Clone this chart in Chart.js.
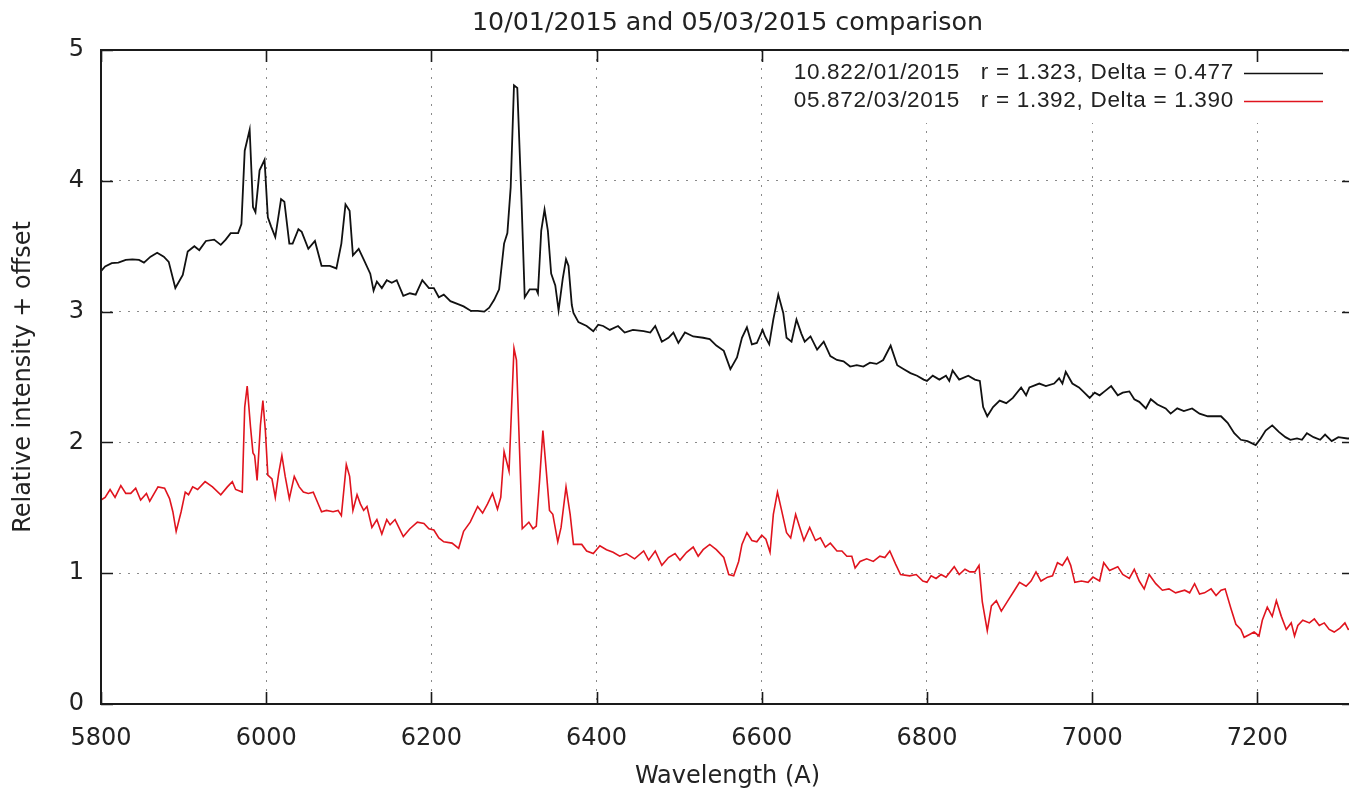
<!DOCTYPE html>
<html>
<head>
<meta charset="utf-8">
<title>10/01/2015 and 05/03/2015 comparison</title>
<script src="https://cdn.jsdelivr.net/npm/chart.js@4.4.1/dist/chart.umd.min.js"></script>
<style>
    html, body { margin: 0; padding: 0; overflow: hidden; background: #fff; }
    #wrap { width: 1360px; height: 789px; }
</style>
</head>
<body>
<div id="wrap"><canvas id="spectrumChart"></canvas></div>
<script>
// spectrum of 10/01/2015 (wavelength in A, relative intensity + offset)
const blackWl = [
    5800, 5805, 5813, 5821, 5830, 5838, 5846, 5852, 5860, 5868, 5876, 5882, 5890, 5899,
    5905, 5913, 5919, 5927, 5937, 5945, 5951, 5957, 5966, 5970, 5974, 5980, 5984, 5987,
    5992, 5998, 6002, 6006, 6011, 6018, 6022, 6028, 6032, 6039, 6043, 6051, 6059, 6067,
    6077, 6085, 6091, 6096, 6101, 6105, 6112, 6118, 6126, 6130, 6134, 6140, 6146, 6152,
    6158, 6166, 6174, 6181, 6189, 6197, 6203, 6209, 6215, 6223, 6233, 6239, 6248, 6256,
    6264, 6270, 6276, 6282, 6288, 6292, 6296, 6300, 6304, 6309, 6313, 6319, 6327, 6329,
    6333, 6337, 6341, 6345, 6350, 6354, 6359, 6363, 6366, 6370, 6372, 6378, 6388, 6396,
    6402, 6408, 6416, 6426, 6434, 6444, 6457, 6465, 6471, 6479, 6487, 6493, 6499, 6507,
    6517, 6529, 6537, 6545, 6554, 6562, 6570, 6576, 6582, 6588, 6594, 6601, 6604, 6609,
    6614, 6620, 6626, 6630, 6636, 6642, 6648, 6652, 6659, 6667, 6675, 6683, 6691, 6699,
    6707, 6715, 6723, 6731, 6739, 6747, 6756, 6764, 6772, 6780, 6788, 6796, 6800, 6807,
    6815, 6823, 6827, 6831, 6839, 6850, 6858, 6864, 6868, 6873, 6880, 6888, 6896, 6904,
    6914, 6920, 6924, 6936, 6944, 6954, 6960, 6964, 6968, 6976, 6984, 6989, 6997, 7003,
    7009, 7015, 7023, 7031, 7037, 7045, 7051, 7057, 7065, 7071, 7079, 7089, 7095, 7103,
    7111, 7121, 7130, 7140, 7148, 7156, 7164, 7172, 7180, 7188, 7198, 7204, 7210, 7218,
    7226, 7234, 7240, 7248, 7254, 7260, 7268, 7276, 7282, 7290, 7298, 7309, 7317
];
const blackFlux = [
    3.31, 3.345, 3.37, 3.375, 3.395, 3.40, 3.395, 3.375, 3.42, 3.45, 3.42, 3.38, 3.18, 3.28,
    3.46, 3.50, 3.47, 3.54, 3.55, 3.51, 3.55, 3.60, 3.60, 3.67, 4.23, 4.39, 3.80, 3.76,
    4.08, 4.16, 3.72, 3.65, 3.57, 3.86, 3.84, 3.52, 3.52, 3.63, 3.61, 3.48, 3.54, 3.35,
    3.35, 3.33, 3.52, 3.82, 3.77, 3.43, 3.48, 3.40, 3.29, 3.16, 3.23, 3.18, 3.24, 3.22,
    3.24, 3.12, 3.14, 3.13, 3.24, 3.18, 3.18, 3.11, 3.13, 3.08, 3.055, 3.04, 3.005, 3.005,
    3.00, 3.03, 3.09, 3.17, 3.52, 3.60, 3.95, 4.73, 4.71, 3.87, 3.11, 3.17, 3.17, 3.14,
    3.62, 3.78, 3.62, 3.29, 3.20, 3.01, 3.25, 3.40, 3.35, 3.05, 2.99, 2.92, 2.89, 2.85,
    2.90, 2.89, 2.86, 2.89, 2.84, 2.86, 2.85, 2.84, 2.89, 2.77, 2.80, 2.84, 2.76, 2.84,
    2.81, 2.80, 2.79, 2.74, 2.70, 2.56, 2.65, 2.80, 2.88, 2.75, 2.76, 2.86, 2.81, 2.75,
    2.94, 3.13, 2.99, 2.80, 2.77, 2.94, 2.83, 2.77, 2.81, 2.71, 2.77, 2.66, 2.63, 2.62,
    2.58, 2.59, 2.58, 2.61, 2.60, 2.63, 2.74, 2.59, 2.56, 2.53, 2.51, 2.48, 2.47, 2.51,
    2.48, 2.51, 2.47, 2.55, 2.48, 2.51, 2.48, 2.47, 2.27, 2.20, 2.27, 2.32, 2.30, 2.34,
    2.42, 2.36, 2.42, 2.45, 2.43, 2.45, 2.49, 2.45, 2.54, 2.45, 2.42, 2.39, 2.34, 2.38,
    2.36, 2.39, 2.43, 2.36, 2.38, 2.39, 2.33, 2.31, 2.26, 2.33, 2.29, 2.26, 2.22, 2.26,
    2.24, 2.26, 2.22, 2.20, 2.20, 2.20, 2.15, 2.07, 2.02, 2.01, 1.98, 2.03, 2.09, 2.13,
    2.08, 2.04, 2.02, 2.03, 2.02, 2.07, 2.04, 2.02, 2.06, 2.01, 2.04, 2.03, 2.03
];

// spectrum of 05/03/2015
const redWl = [
    5800, 5805, 5811, 5817, 5824, 5830, 5836, 5842, 5848, 5855, 5859, 5869, 5877, 5883,
    5887, 5891, 5897, 5902, 5906, 5911, 5917, 5926, 5935, 5945, 5953, 5959, 5963, 5971,
    5974, 5977, 5981, 5984, 5986, 5989, 5993, 5996, 5999, 6002, 6007, 6011, 6015, 6019,
    6023, 6028, 6034, 6040, 6045, 6051, 6057, 6061, 6067, 6073, 6081, 6087, 6091, 6097,
    6101, 6105, 6110, 6114, 6118, 6122, 6128, 6134, 6140, 6146, 6150, 6156, 6166, 6174,
    6183, 6191, 6197, 6203, 6209, 6215, 6225, 6233, 6239, 6247, 6256, 6262, 6268, 6274,
    6280, 6284, 6288, 6294, 6300, 6303, 6310, 6318, 6323, 6327, 6331, 6335, 6339, 6343,
    6347, 6353, 6357, 6363, 6368, 6372, 6382, 6388, 6396, 6404, 6412, 6420, 6428, 6436,
    6446, 6457, 6463, 6471, 6479, 6487, 6495, 6501, 6509, 6517, 6523, 6529, 6537, 6545,
    6554, 6560, 6566, 6572, 6576, 6582, 6588, 6594, 6600, 6605, 6610, 6614, 6619, 6624,
    6630, 6635, 6641, 6646, 6651, 6658, 6665, 6671, 6677, 6683, 6691, 6697, 6703, 6709,
    6713, 6719, 6727, 6735, 6743, 6749, 6755, 6762, 6768, 6779, 6787, 6795, 6800, 6805,
    6811, 6817, 6823, 6833, 6839, 6846, 6852, 6858, 6863, 6867, 6873, 6878, 6884, 6890,
    6898, 6906, 6912, 6920, 6926, 6932, 6938, 6946, 6952, 6958, 6964, 6970, 6974, 6979,
    6987, 6995, 7001, 7009, 7014, 7021, 7031, 7037, 7045, 7051, 7057, 7063, 7069, 7077,
    7085, 7093, 7101, 7112, 7118, 7124, 7130, 7136, 7144, 7150, 7156, 7161, 7168, 7174,
    7180, 7184, 7190, 7196, 7202, 7206, 7212, 7218, 7223, 7229, 7235, 7241, 7245, 7249,
    7255, 7263, 7269, 7275, 7281, 7287, 7293, 7300, 7306, 7310, 7317
];
const redFlux = [
    1.56, 1.58, 1.64, 1.58, 1.67, 1.61, 1.61, 1.65, 1.56, 1.61, 1.55, 1.66, 1.65, 1.57,
    1.47, 1.32, 1.47, 1.62, 1.60, 1.66, 1.64, 1.70, 1.66, 1.60, 1.66, 1.70, 1.64, 1.62,
    2.27, 2.43, 2.12, 1.92, 1.90, 1.71, 2.13, 2.32, 2.09, 1.75, 1.72, 1.58, 1.76, 1.90,
    1.74, 1.57, 1.74, 1.66, 1.62, 1.61, 1.62, 1.56, 1.47, 1.48, 1.47, 1.48, 1.44, 1.83,
    1.74, 1.48, 1.60, 1.53, 1.48, 1.51, 1.35, 1.41, 1.30, 1.41, 1.37, 1.41, 1.28, 1.34,
    1.39, 1.38, 1.34, 1.33, 1.27, 1.24, 1.23, 1.19, 1.32, 1.39, 1.51, 1.46, 1.53, 1.61,
    1.49, 1.58, 1.93, 1.78, 2.72, 2.63, 1.34, 1.39, 1.34, 1.36, 1.71, 2.09, 1.79, 1.48,
    1.45, 1.24, 1.35, 1.66, 1.45, 1.22, 1.22, 1.17, 1.15, 1.21, 1.18, 1.16, 1.13, 1.15,
    1.11, 1.17, 1.10, 1.17, 1.06, 1.12, 1.15, 1.10, 1.16, 1.20, 1.13, 1.18, 1.22, 1.18,
    1.12, 0.99, 0.98, 1.09, 1.22, 1.31, 1.25, 1.24, 1.29, 1.26, 1.16, 1.45, 1.62, 1.48,
    1.31, 1.27, 1.45, 1.35, 1.25, 1.35, 1.25, 1.27, 1.20, 1.23, 1.17, 1.17, 1.13, 1.13,
    1.04, 1.09, 1.11, 1.09, 1.13, 1.12, 1.17, 1.07, 0.99, 0.98, 0.99, 0.94, 0.93, 0.98,
    0.96, 0.99, 0.97, 1.05, 0.99, 1.03, 1.01, 1.01, 1.06, 0.78, 0.56, 0.75, 0.79, 0.71,
    0.79, 0.87, 0.93, 0.90, 0.94, 1.01, 0.94, 0.97, 0.98, 1.08, 1.06, 1.12, 1.06, 0.93,
    0.94, 0.93, 0.97, 0.94, 1.08, 1.02, 1.05, 0.99, 0.96, 1.03, 0.94, 0.88, 0.99, 0.92,
    0.87, 0.88, 0.85, 0.87, 0.85, 0.92, 0.84, 0.85, 0.88, 0.83, 0.87, 0.88, 0.73, 0.61,
    0.57, 0.51, 0.53, 0.55, 0.52, 0.64, 0.74, 0.67, 0.79, 0.67, 0.57, 0.62, 0.52, 0.60,
    0.64, 0.62, 0.65, 0.60, 0.62, 0.57, 0.55, 0.58, 0.62, 0.57, 0.58
];

const xTickValues = [5800, 6000, 6200, 6400, 6600, 6800, 7000, 7200];
const yTickValues = [0, 1, 2, 3, 4, 5];

const chartTitle = "10/01/2015 and 05/03/2015 comparison";
const keyLabels = [
    "10.822/01/2015   r = 1.323, Delta = 0.477",
    "05.872/03/2015   r = 1.392, Delta = 1.390"
];
const lineColors = ["#111111", "#e0141e"];

const fontFamily = "'DejaVu Sans', Verdana, sans-serif";

function toPoints(xs, ys) {
    return xs.map((v, i) => ({ x: v, y: ys[i] }));
}

// title centred over the plot box, like gnuplot does
const plotTitle = {
    id: "plotTitle",
    afterDraw(chart) {
        const { ctx, chartArea: a } = chart;
        ctx.save();
        ctx.font = "25.3px " + fontFamily;
        ctx.fillStyle = "#222";
        ctx.textAlign = "center";
        ctx.textBaseline = "middle";
        ctx.fillText(chartTitle, (a.left + a.right) / 2, 23);
        ctx.restore();
    }
};

// white key box, drawn over the grid before the curves
const keyBox = {
    id: "keyBox",
    beforeDatasetsDraw(chart) {
        const { ctx, chartArea: a } = chart;
        ctx.save();
        ctx.fillStyle = "#ffffff";
        ctx.fillRect(782, a.top + 1, a.right - 782 - 1, 72);
        ctx.font = "22.5px 'Liberation Sans', Arial, sans-serif";
        ctx.letterSpacing = "0.7px";
        ctx.textAlign = "right";
        ctx.textBaseline = "middle";
        ctx.fillStyle = "#222";
        keyLabels.forEach((label, i) => {
            const yy = 73 + i * 28;
            ctx.fillText(label, 1234, yy);
            ctx.strokeStyle = lineColors[i];
            ctx.lineWidth = 1.6;
            ctx.beginPath();
            ctx.moveTo(1244, yy + 0.5);
            ctx.lineTo(1323, yy + 0.5);
            ctx.stroke();
        });
        ctx.restore();
    }
};

// gnuplot style frame with inward ticks on all four sides
const frame = {
    id: "frame",
    afterDatasetsDraw(chart) {
        const { ctx, chartArea: a, scales: { x, y } } = chart;
        const len = 12;
        ctx.save();
        ctx.strokeStyle = "#1a1a1a";
        ctx.lineWidth = 1.6;
        ctx.beginPath();
        xTickValues.forEach(v => {
            const px = Math.round(x.getPixelForValue(v)) + 0.5;
            ctx.moveTo(px, a.bottom);
            ctx.lineTo(px, a.bottom - len);
            if (px < 782 || px > 1236) {
                ctx.moveTo(px, a.top);
                ctx.lineTo(px, a.top + len);
            }
        });
        yTickValues.forEach(v => {
            const py = Math.round(y.getPixelForValue(v)) + 0.5;
            ctx.moveTo(a.left, py);
            ctx.lineTo(a.left + len, py);
            ctx.moveTo(a.right, py);
            ctx.lineTo(a.right - len, py);
        });
        ctx.stroke();
        ctx.lineWidth = 2;
        ctx.strokeRect(a.left, a.top, a.right - a.left, a.bottom - a.top);
        ctx.restore();
    }
};

document.addEventListener("DOMContentLoaded", function () {
    const canvas = document.getElementById("spectrumChart");

    new Chart(canvas, {
        type: "line",
        data: {
            datasets: [
                {
                    label: keyLabels[0],
                    data: toPoints(blackWl, blackFlux),
                    borderColor: lineColors[0],
                    borderWidth: 1.8
                },
                {
                    label: keyLabels[1],
                    data: toPoints(redWl, redFlux),
                    borderColor: lineColors[1],
                    borderWidth: 1.6
                }
            ]
        },
        options: {
            responsive: true,
            maintainAspectRatio: false,
            animation: false,
            parsing: false,
            layout: { padding: { left: 0, right: 6, top: 50, bottom: 0 } },
            elements: {
                point: { radius: 0 },
                line: { tension: 0, fill: false }
            },
            plugins: {
                legend: { display: false },
                tooltip: { enabled: false },
                title: { display: false }
            },
            scales: {
                x: {
                    type: "linear",
                    min: 5800,
                    max: 7317,
                    afterFit: s => { s.height = 85; },
                    afterBuildTicks: s => { s.ticks = xTickValues.map(v => ({ value: v })); },
                    grid: { color: "#8a8a8a", lineWidth: 1, drawTicks: false },
                    border: { display: false, dash: [2, 7] },
                    ticks: {
                        padding: 20,
                        color: "#222",
                        font: { family: fontFamily, size: 24 },
                        maxRotation: 0,
                        callback: v => String(v)
                    },
                    title: {
                        display: true,
                        text: "Wavelength (A)",
                        color: "#222",
                        font: { family: fontFamily, size: 24, lineHeight: 1.0 },
                        padding: { top: 0, bottom: 0 }
                    }
                },
                y: {
                    min: 0,
                    max: 5,
                    afterFit: s => { s.width = 101; },
                    afterBuildTicks: s => { s.ticks = yTickValues.map(v => ({ value: v })); },
                    grid: { color: "#8a8a8a", lineWidth: 1, drawTicks: false },
                    border: { display: false, dash: [2, 7] },
                    ticks: {
                        padding: 17,
                        color: "#222",
                        font: { family: fontFamily, size: 24 },
                        callback: v => String(v)
                    },
                    title: {
                        display: true,
                        text: "Relative intensity + offset",
                        color: "#222",
                        font: { family: fontFamily, size: 24, lineHeight: 1.2 },
                        padding: { top: 9, bottom: 0 }
                    }
                }
            }
        },
        plugins: [keyBox, frame, plotTitle]
    });
});
</script>
</body>
</html>
